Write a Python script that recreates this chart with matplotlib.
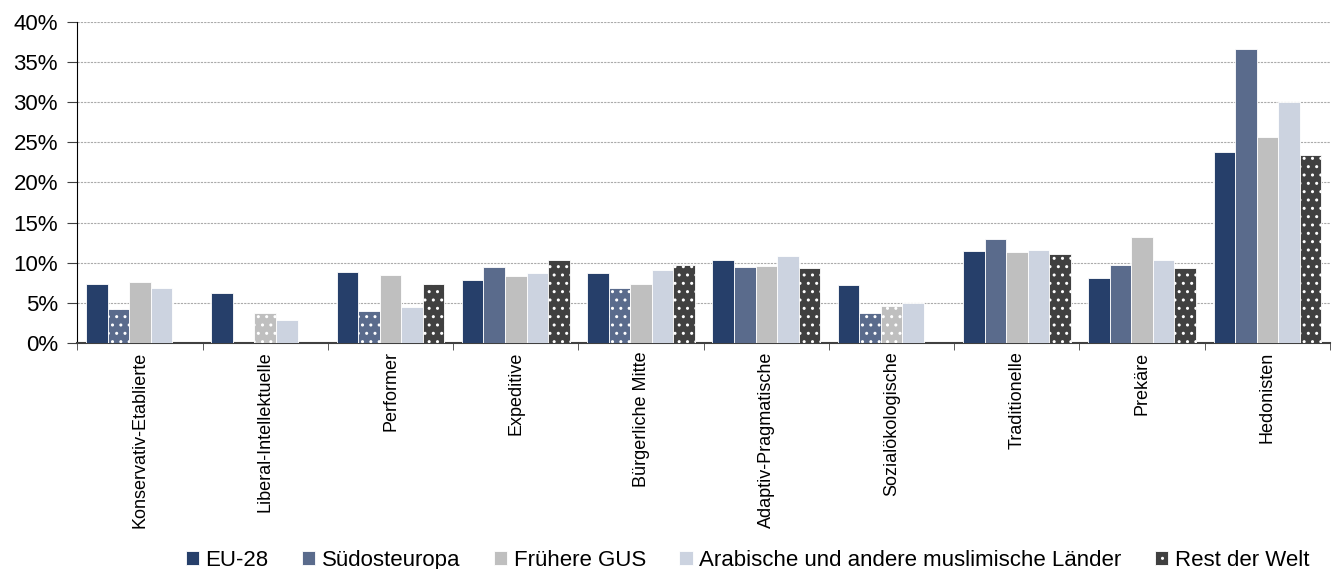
import matplotlib.pyplot as plt
import numpy as np
from matplotlib.patches import Patch
from matplotlib.ticker import PercentFormatter

plt.rcParams['font.family'] = ['Liberation Sans', 'DejaVu Sans']
plt.rcParams['hatch.linewidth'] = 1.0

milieus = ['Konservativ-Etablierte', 'Liberal-Intellektuelle', 'Performer', 'Expeditive',
           'Bürgerliche Mitte', 'Adaptiv-Pragmatische', 'Sozialökologische',
           'Traditionelle', 'Prekäre', 'Hedonisten']
series = ['EU-28', 'Südosteuropa', 'Frühere GUS',
          'Arabische und andere muslimische Länder', 'Rest der Welt']

eu28 = [7.3, 6.2, 8.8, 7.8, 8.7, 10.4, 7.2, 11.4, 8.1, 23.8]
suedost = [4.2, np.nan, 4.0, 9.5, 6.8, 9.5, 3.8, 12.9, 9.7, 36.6]
gus = [7.6, 3.8, 8.5, 8.3, 7.3, 9.6, 4.6, 11.3, 13.2, 25.6]
arab = [6.8, 2.9, 4.5, 8.7, 9.1, 10.8, 5.0, 11.6, 10.3, 30.0]
rest = [np.nan, np.nan, 7.4, 10.4, 9.7, 9.3, np.nan, 11.1, 9.3, 23.4]

# Balken mit geringer Fallzahl (gepunktet)
dotted = {
    'Südosteuropa': [0, 2, 4, 6],
    'Frühere GUS': [1, 6],
    'Rest der Welt': list(range(10)),
}

colors = ['#263F6A', '#5A6B8C', '#BFBFBF', '#CCD3E0', '#404040']
values = [eu28, suedost, gus, arab, rest]

fig, ax = plt.subplots(figsize=(13.34, 5.69), dpi=100)
fig.subplots_adjust(left=0.058, right=0.997, top=0.962, bottom=0.397)

x = np.arange(len(milieus))
w = 0.172
for i, (name, vals, c) in enumerate(zip(series, values, colors)):
    pos = x + (i - 2) * w
    bars = ax.bar(pos, vals, w, color=c, edgecolor='white', linewidth=0.6, zorder=3)
    for j in dotted.get(name, []):
        bars[j].set_hatch('..')

ax.set_xlim(-0.5, len(milieus) - 0.5)
ax.set_ylim(0, 40)
ax.set_yticks(np.arange(0, 41, 5))
ax.yaxis.set_major_formatter(PercentFormatter(decimals=0))
ax.grid(axis='y', color='#AAAAAA', linestyle=(0, (2, 1)), linewidth=0.8, zorder=0)

ax.set_xticks(x)
ax.set_xticklabels(milieus, rotation=90, fontsize=13)
ax.set_xticks(np.arange(-0.5, len(milieus)), minor=True)
ax.tick_params(axis='x', which='major', length=0, pad=6)
ax.tick_params(axis='x', which='minor', length=5, color='#404040')
ax.tick_params(axis='y', labelsize=16, length=7, pad=7, color='#404040')

for s in ['top', 'right']:
    ax.spines[s].set_visible(False)
ax.spines['left'].set_color('black')
ax.spines['bottom'].set_color('#404040')
ax.spines['bottom'].set_linewidth(1.5)

handles = [Patch(facecolor=c, edgecolor='white', linewidth=0.6,
                 hatch='..' if name == 'Rest der Welt' else None)
           for name, c in zip(series, colors)]
ax.legend(handles, series, loc='lower center', bbox_to_anchor=(0.535, -0.77), ncol=5,
          frameon=False, fontsize=16, handlelength=0.6, handleheight=0.6,
          handletextpad=0.3, columnspacing=1.5)

fig.savefig('out.png', dpi=100)
